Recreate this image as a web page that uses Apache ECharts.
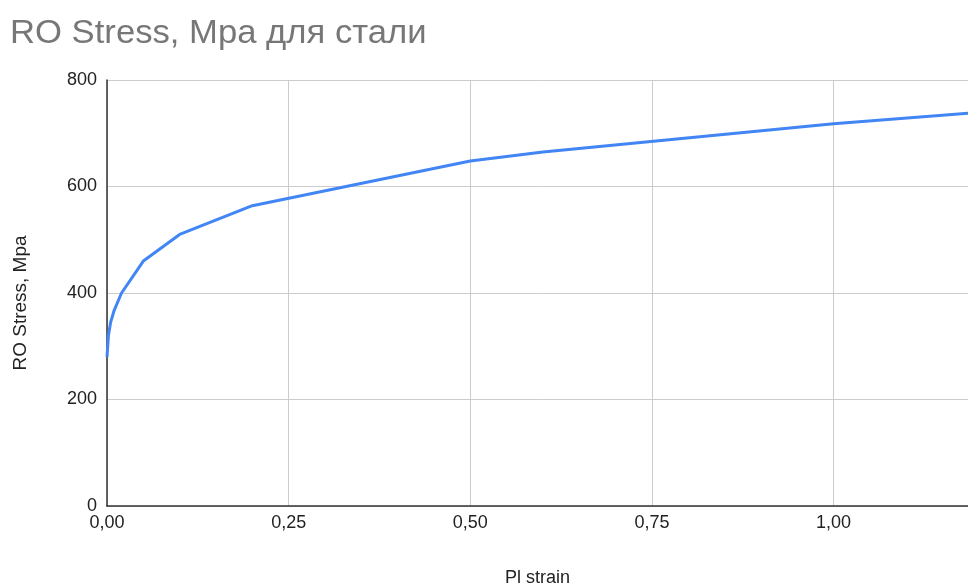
<!DOCTYPE html>
<html>
<head>
<meta charset="utf-8">
<script src="https://cdn.jsdelivr.net/npm/echarts@6/dist/echarts.min.js"></script>
<style>
  html, body { margin: 0; padding: 0; background: #fff; }
  #chart { width: 968px; height: 588px; }
</style>
</head>
<body>
<div id="chart"></div>
<script>
// Ramberg–Osgood curve for steel: plastic strain vs stress (MPa)
const plStrain = [0, 0.002, 0.005, 0.01, 0.02, 0.05, 0.1, 0.2, 0.5, 0.6, 1.0, 1.2];
const roStress = [280, 320, 345, 368, 400, 460, 510, 564, 648, 665, 718, 739];
const yTicks = [0, 200, 400, 600, 800];
const xTicks = [0, 0.25, 0.5, 0.75, 1.0];

const points = plStrain.map((x, i) => [x, roStress[i]]);
const font = 'Liberation Sans, Arial, sans-serif';

const chart = echarts.init(document.getElementById('chart'), null, { renderer: 'canvas' });
chart.setOption({
  animation: false,
  backgroundColor: '#ffffff',
  graphic: [{
    type: 'text',
    left: 10,
    top: 17,
    scaleX: 1.05,
    style: {
      text: 'RO Stress, Мра для стали',
      font: 'normal 33px ' + font,
      fill: '#777777'
    }
  }],
  grid: { left: 107, right: 0, top: 80, bottom: 82, containLabel: false, outerBoundsMode: 'none' },
  xAxis: {
    type: 'value',
    min: xTicks[0],
    max: 1.185,
    interval: 0.25,
    name: 'Pl strain',
    nameLocation: 'middle',
    nameGap: 63,
    nameTextStyle: { fontFamily: font, fontSize: 18, color: '#222' },
    axisLine: { show: true, lineStyle: { color: '#333', width: 1.5 } },
    axisTick: { show: false },
    axisLabel: {
      showMaxLabel: false,
      margin: 8,
      fontFamily: font, fontSize: 18, color: '#222',
      formatter: v => v.toFixed(2).replace('.', ',')
    },
    splitLine: { show: true, lineStyle: { color: '#cccccc', width: 1 } }
  },
  yAxis: {
    type: 'value',
    min: yTicks[0],
    max: yTicks[yTicks.length - 1],
    interval: 200,
    name: 'RO Stress, Mpa',
    nameLocation: 'middle',
    nameGap: 77,
    nameTextStyle: { fontFamily: font, fontSize: 19, color: '#222', padding: [0, 20, 0, 0] },
    axisLine: { show: true, lineStyle: { color: '#333', width: 1.5 } },
    axisTick: { show: false },
    axisLabel: { margin: 10, fontFamily: font, fontSize: 18, color: '#222' },
    splitLine: { show: true, lineStyle: { color: '#cccccc', width: 1 } }
  },
  series: [{
    type: 'line',
    data: points,
    showSymbol: false,
    symbol: 'none',
    smooth: false,
    clip: true,
    lineStyle: { color: '#4285F4', width: 3 },
    itemStyle: { color: '#4285F4' }
  }]
});
</script>
</body>
</html>
